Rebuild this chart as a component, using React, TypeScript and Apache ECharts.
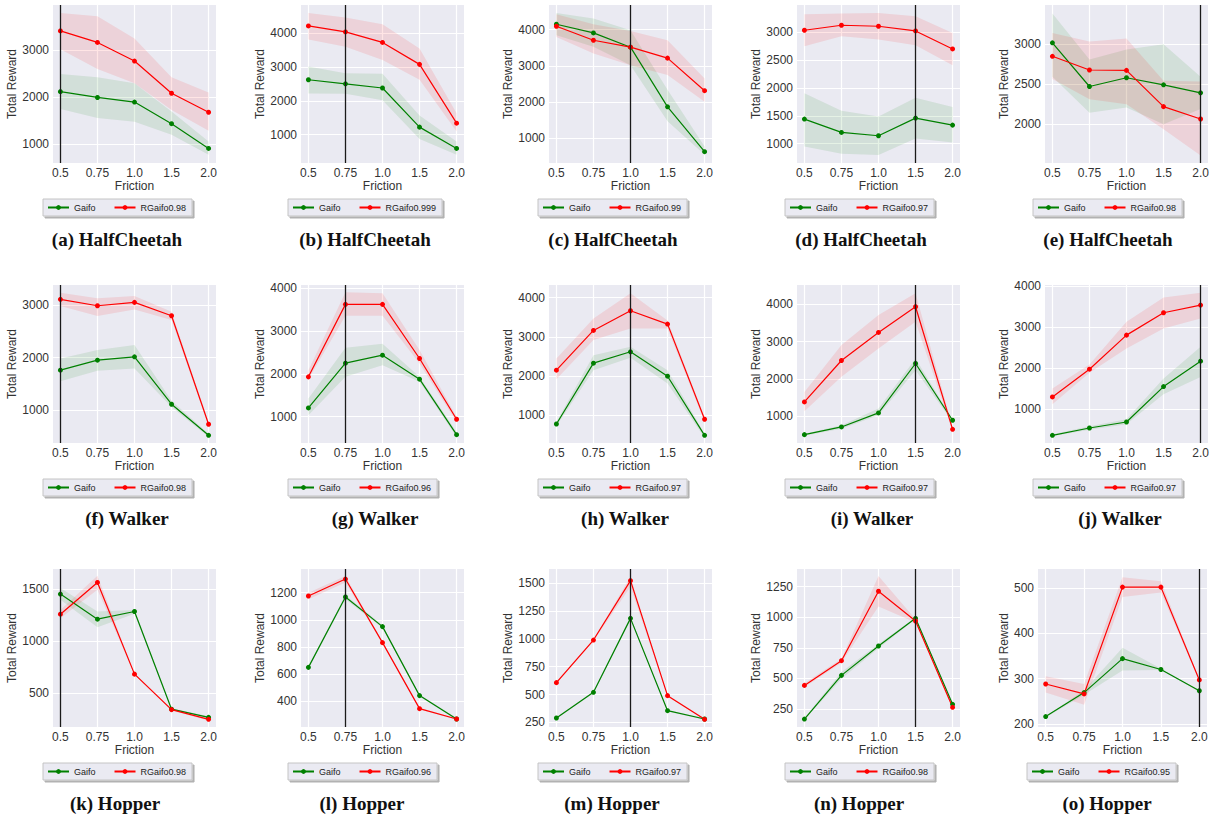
import React, { useEffect, useRef } from 'react';
import * as echarts from 'echarts';

const frictionLabels = ['0.5', '0.75', '1.0', '1.5', '2.0'];
const panelLetters = ['a', 'b', 'c', 'd', 'e', 'f', 'g', 'h', 'i', 'j', 'k', 'l', 'm', 'n', 'o'];
const envNames = [
  'HalfCheetah', 'HalfCheetah', 'HalfCheetah', 'HalfCheetah', 'HalfCheetah',
  'Walker', 'Walker', 'Walker', 'Walker', 'Walker',
  'Hopper', 'Hopper', 'Hopper', 'Hopper', 'Hopper',
];
const rgaifoNames = [
  'RGaifo0.98', 'RGaifo0.999', 'RGaifo0.99', 'RGaifo0.97', 'RGaifo0.98',
  'RGaifo0.98', 'RGaifo0.96', 'RGaifo0.97', 'RGaifo0.97', 'RGaifo0.97',
  'RGaifo0.98', 'RGaifo0.96', 'RGaifo0.97', 'RGaifo0.98', 'RGaifo0.95',
];
const markedFriction = [0, 1, 2, 3, 4, 0, 1, 2, 3, 4, 0, 1, 2, 3, 4];

const yMin = [597, 154, 324, 655, 1520, 377, 383, 292, 284, 169, 175, 211, 208, 103, 193];
const yMax = [3960, 4846, 4676, 3482, 3482, 3381, 4078, 4325, 4518, 4024, 1693, 1374, 1629, 1394, 542];
const yStep = [1000, 1000, 1000, 500, 500, 1000, 1000, 1000, 1000, 1000, 500, 200, 250, 250, 100];

const gaifoMean = [
  [2116, 1992, 1894, 1434, 907],
  [2627, 2506, 2381, 1219, 586],
  [4146, 3907, 3514, 1871, 635],
  [1441, 1202, 1143, 1458, 1333],
  [3012, 2470, 2579, 2491, 2391],
  [1762, 1952, 2016, 1114, 523],
  [1203, 2250, 2437, 1875, 578],
  [778, 2330, 2620, 1997, 488],
  [508, 714, 1090, 2414, 893],
  [356, 535, 682, 1546, 2165],
  [1452, 1211, 1285, 346, 268],
  [650, 1168, 950, 442, 270],
  [289, 520, 1185, 355, 280],
  [168, 525, 765, 991, 288],
  [216, 269, 344, 320, 273],
];
const gaifoLow = [
  [1745, 1555, 1477, 1197, 773],
  [2215, 2207, 2018, 864, 400],
  [3843, 3523, 3019, 1476, 552],
  [952, 821, 798, 1095, 1023],
  [2591, 2145, 2208, 2000, 2190],
  [1552, 1749, 1793, 1063, 492],
  [1031, 1930, 2203, 1813, 523],
  [727, 2151, 2466, 1810, 429],
  [481, 669, 1027, 2235, 848],
  [332, 495, 625, 1359, 1782],
  [1397, 1133, 1262, 336, 259],
  [640, 1151, 940, 435, 263],
  [282, 512, 1170, 348, 274],
  [160, 498, 746, 983, 280],
  [214, 264, 318, 319, 271],
];
const gaifoHigh = [
  [2494, 2424, 2297, 1695, 1055],
  [3019, 2822, 2801, 1561, 793],
  [4456, 4302, 3981, 2342, 780],
  [1905, 1589, 1488, 1821, 1655],
  [3375, 2804, 2929, 2995, 2591],
  [1984, 2143, 2238, 1178, 555],
  [1422, 2609, 2703, 1930, 640],
  [830, 2535, 2748, 2151, 531],
  [534, 758, 1206, 2549, 919],
  [381, 576, 747, 1742, 2516],
  [1510, 1285, 1300, 355, 278],
  [660, 1183, 960, 450, 277],
  [296, 528, 1200, 362, 286],
  [176, 552, 781, 999, 296],
  [217, 274, 368, 322, 274],
];
const rgaifoMean = [
  [3409, 3163, 2767, 2082, 1678],
  [4225, 4047, 3734, 3083, 1337],
  [4091, 3706, 3514, 3212, 2316],
  [3030, 3120, 3102, 3018, 2696],
  [2845, 2675, 2670, 2220, 2066],
  [3108, 2987, 3051, 2797, 733],
  [1930, 3625, 3625, 2359, 938],
  [2151, 3165, 3668, 3327, 898],
  [1385, 2495, 3247, 3936, 651],
  [1293, 1970, 2801, 3347, 3535],
  [1259, 1564, 683, 342, 249],
  [1175, 1300, 832, 346, 270],
  [607, 990, 1524, 490, 277],
  [443, 645, 1212, 969, 264],
  [288, 266, 502, 502, 297],
];
const rgaifoLow = [
  [3020, 2597, 2294, 1727, 1282],
  [3822, 3604, 3210, 2623, 1089],
  [3797, 3341, 3019, 2745, 2010],
  [2745, 2923, 2863, 2762, 2405],
  [2562, 2312, 2250, 1938, 1612],
  [2981, 2790, 2917, 2714, 695],
  [1875, 3359, 3359, 2242, 875],
  [1921, 2918, 3217, 3217, 829],
  [1134, 2056, 2817, 3534, 597],
  [1114, 1880, 2475, 2964, 3209],
  [1220, 1494, 677, 333, 236],
  [1151, 1274, 825, 340, 264],
  [597, 982, 1470, 482, 270],
  [427, 629, 1087, 956, 253],
  [269, 242, 480, 490, 295],
];
const rgaifoHigh = [
  [3790, 3720, 3248, 2420, 2095],
  [4610, 4473, 4275, 3556, 1633],
  [4420, 4146, 3962, 3706, 2650],
  [3316, 3329, 3339, 3280, 2982],
  [3133, 3029, 3066, 2541, 2533],
  [3235, 3127, 3171, 2873, 777],
  [2086, 3906, 3883, 2555, 992],
  [2449, 3472, 4112, 3420, 957],
  [1654, 2907, 3713, 4295, 714],
  [1497, 2084, 3127, 3722, 3836],
  [1300, 1629, 690, 352, 262],
  [1200, 1323, 840, 352, 276],
  [617, 998, 1560, 498, 284],
  [460, 661, 1337, 983, 275],
  [305, 288, 524, 515, 299],
];

// layout constants
const colLeft = [53, 301, 549, 797, 1045];
const rowTop = [5, 285, 569];
const plotW = 163;
const plotH = 158;
const legendLeft = [43, 288, 538, 785, 1033];
const legendTop = [199, 479, 763];
const captionX = [
  [117, 365, 613, 861, 1108],
  [127, 375, 625, 872, 1120],
  [115, 362, 612, 859, 1107],
];
const captionY = [239, 518, 803];

const GREEN = '#008000';
const RED = '#ff0000';
const SANS = '"Liberation Sans", Arial, sans-serif';

function bandSeries(i: number, lo: number[], hi: number[], fill: string, name: string) {
  return {
    type: 'custom',
    name,
    xAxisIndex: i,
    yAxisIndex: i,
    silent: true,
    z: 1,
    clip: true,
    data: [[2, (yMin[i] + yMax[i]) / 2]],
    renderItem: (_params: any, api: any) => {
      const top = hi.map((v, k) => api.coord([k, v]));
      const bottom = lo.map((v, k) => api.coord([k, v])).reverse();
      return {
        type: 'polygon',
        shape: { points: top.concat(bottom) },
        style: { fill, stroke: 'none' },
      };
    },
  };
}

function buildOption() {
  const grids: any[] = [];
  const xAxes: any[] = [];
  const yAxes: any[] = [];
  const series: any[] = [];
  const legends: any[] = [];
  const graphics: any[] = [];

  for (let i = 0; i < 15; i++) {
    const row = Math.floor(i / 5);
    const col = i % 5;
    let left = colLeft[col];
    let width = plotW;
    const maxTick = Math.floor(yMax[i] / yStep[i]) * yStep[i];
    const digits = String(maxTick).length;
    if (digits === 3) {
      left = col === 4 ? 1038 : left - 7;
      width = plotW + (col === 4 ? 6 : 7);
    }
    grids.push({
      left,
      top: rowTop[row],
      width,
      height: plotH,
      show: true,
      backgroundColor: '#eaeaf2',
      borderWidth: 0,
      containLabel: false,
      outerBoundsMode: 'none',
    });
    xAxes.push({
      type: 'value',
      gridIndex: i,
      min: -0.2,
      max: 4.2,
      minInterval: 1,
      maxInterval: 1,
      name: 'Friction',
      nameLocation: 'middle',
      nameGap: 15,
      nameTextStyle: { fontSize: 12, color: '#333', fontFamily: SANS },
      axisLine: { show: false },
      axisTick: { show: false },
      axisLabel: {
        margin: 4,
        fontSize: 12,
        color: '#333',
        fontFamily: SANS,
        showMinLabel: true,
        showMaxLabel: true,
        hideOverlap: false,
        formatter: (v: number) => {
          const k = Math.round(v);
          return Math.abs(v - k) < 1e-6 && k >= 0 && k <= 4 ? frictionLabels[k] : '';
        },
      },
      splitLine: { show: true, showMinLine: false, showMaxLine: false, lineStyle: { color: '#ffffff', width: 1.2 } },
    });
    const step = yStep[i];
    yAxes.push({
      type: 'value',
      gridIndex: i,
      min: yMin[i],
      max: yMax[i],
      minInterval: step,
      maxInterval: step,
      name: 'Total Reward',
      nameLocation: 'middle',
      nameGap: 4 + digits * 6.7 + 4,
      nameTextStyle: { fontSize: 12, color: '#333', fontFamily: SANS },
      axisLine: { show: false },
      axisTick: { show: false },
      axisLabel: {
        margin: 4,
        fontSize: 12,
        color: '#333',
        fontFamily: SANS,
        hideOverlap: false,
        formatter: (v: number) => {
          const r = v / step;
          return Math.abs(r - Math.round(r)) < 1e-6 ? String(v) : '';
        },
      },
      splitLine: { show: true, showMinLine: false, showMaxLine: false, lineStyle: { color: '#ffffff', width: 1.2 } },
    });

    const pts = (arr: number[]) => arr.map((v, k) => [k, v]);
    series.push(bandSeries(i, gaifoLow[i], gaifoHigh[i], 'rgba(0,128,0,0.1)', '_gband' + i));
    series.push(bandSeries(i, rgaifoLow[i], rgaifoHigh[i], 'rgba(255,0,0,0.1)', '_rband' + i));
    series.push({
      type: 'line',
      name: 'Gaifo',
      xAxisIndex: i,
      yAxisIndex: i,
      data: pts(gaifoMean[i]),
      symbol: 'circle',
      symbolSize: 5,
      showSymbol: true,
      itemStyle: { color: GREEN },
      lineStyle: { color: GREEN, width: 1.2 },
      z: 3,
      markLine: {
        silent: true,
        symbol: 'none',
        label: { show: false },
        lineStyle: { color: '#1a1a1a', width: 1.3, type: 'solid' },
        data: [{ xAxis: markedFriction[i] }],
        z: 4,
      },
    });
    series.push({
      type: 'line',
      name: rgaifoNames[i],
      xAxisIndex: i,
      yAxisIndex: i,
      data: pts(rgaifoMean[i]),
      symbol: 'circle',
      symbolSize: 5,
      showSymbol: true,
      itemStyle: { color: RED },
      lineStyle: { color: RED, width: 1.2 },
      z: 3,
    });

    legends.push({
      data: ['Gaifo', rgaifoNames[i]],
      left: i === 14 ? 1027 : legendLeft[col],
      top: legendTop[row],
      orient: 'horizontal',
      itemWidth: 21,
      itemHeight: 6,
      itemGap: 18,
      selectedMode: false,
      padding: [4, 6, 4, 4],
      backgroundColor: '#eaeaf2',
      borderColor: '#c4c4c4',
      borderWidth: 1,
      borderRadius: 0,
      shadowColor: 'rgba(0,0,0,0.3)',
      shadowBlur: 1,
      shadowOffsetX: 2,
      shadowOffsetY: 2,
      textStyle: { fontSize: 9, color: '#222', fontFamily: SANS },
    });

    graphics.push({
      type: 'text',
      x: captionX[row][col],
      y: captionY[row],
      style: {
        text: '(' + panelLetters[i] + ') ' + envNames[i],
        font: 'bold 19px "Liberation Serif", "Times New Roman", serif',
        fill: '#111',
        textAlign: 'center',
        textVerticalAlign: 'middle',
        align: 'center',
        verticalAlign: 'middle',
      },
    });
  }

  return {
    animation: false,
    backgroundColor: '#ffffff',
    grid: grids,
    xAxis: xAxes,
    yAxis: yAxes,
    series,
    legend: legends,
    graphic: graphics,
    tooltip: { show: false },
  };
}

export default function App() {
  const ref = useRef<HTMLDivElement>(null);
  useEffect(() => {
    document.body.style.margin = '0';
    if (!ref.current) return;
    const chart = echarts.init(ref.current, undefined, { renderer: 'svg' });
    chart.setOption(buildOption() as any);
    return () => {
      chart.dispose();
    };
  }, []);
  return <div ref={ref} style={{ width: 1215, height: 815, position: 'absolute', left: 0, top: 0 }} />;
}
